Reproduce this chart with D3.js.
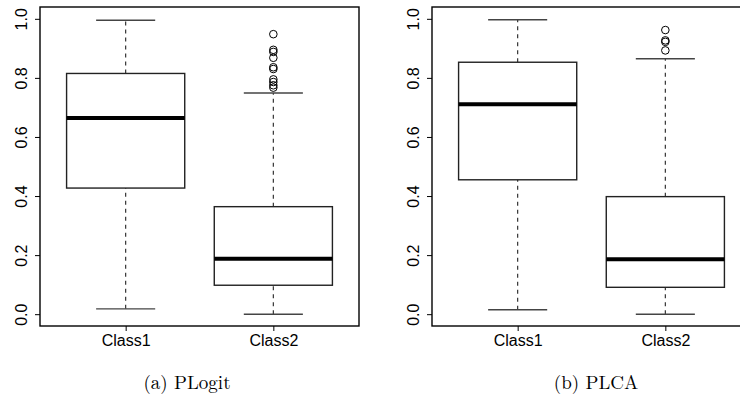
<!DOCTYPE html>
<html>
<head>
<meta charset="utf-8">
<script src="https://cdn.jsdelivr.net/npm/d3@7"></script>
<style>
  body { margin: 0; background: #fff; }
  svg { display: block; }
</style>
</head>
<body>
<svg id="chart" width="740" height="408"></svg>
<script>
// values: [lower whisker, Q1, median, Q3, upper whisker]
var categories = ["Class1", "Class2"];
var yTicks = [0, 0.2, 0.4, 0.6, 0.8, 1.0];
var captions = ["(a) PLogit", "(b) PLCA"];

var plogitStats = [[0.018, 0.427, 0.664, 0.815, 0.995],
                   [0.000, 0.098, 0.188, 0.364, 0.749]];
var plogitOutliers = [[], [0.948, 0.895, 0.888, 0.868, 0.836, 0.830, 0.795, 0.786, 0.775, 0.767]];

var plcaStats = [[0.015, 0.455, 0.711, 0.853, 0.997],
                 [0.000, 0.091, 0.186, 0.398, 0.865]];
var plcaOutliers = [[], [0.962, 0.927, 0.922, 0.893]];

var svg = d3.select("#chart");
var sans = "'Liberation Sans', Arial, Helvetica, sans-serif";

function drawPanel(left, top, stats, outliers, caption, capX) {
  var w = 319, h = 319;
  var x = d3.scaleLinear().domain([0.42, 2.58]).range([left, left + w]);
  var y = d3.scaleLinear().domain([-0.04, 1.04]).range([top + h, top]);
  var g = svg.append("g");

  stats.forEach(function (s, i) {
    var cx = x(i + 1);
    var bx0 = x(i + 1 - 0.4), bx1 = x(i + 1 + 0.4);
    var cx0 = x(i + 1 - 0.2), cx1 = x(i + 1 + 0.2);

    // dashed whiskers
    g.append("line").attr("x1", cx).attr("x2", cx).attr("y1", y(s[0])).attr("y2", y(s[1]))
      .attr("stroke", "#333").attr("stroke-width", 1.2).attr("stroke-dasharray", "4,4");
    g.append("line").attr("x1", cx).attr("x2", cx).attr("y1", y(s[3])).attr("y2", y(s[4]))
      .attr("stroke", "#333").attr("stroke-width", 1.2).attr("stroke-dasharray", "4,4");
    // staples
    [s[0], s[4]].forEach(function (v) {
      g.append("line").attr("x1", cx0).attr("x2", cx1).attr("y1", y(v)).attr("y2", y(v))
        .attr("stroke", "#444").attr("stroke-width", 1.4);
    });
    // box
    g.append("rect").attr("x", bx0).attr("y", y(s[3]))
      .attr("width", bx1 - bx0).attr("height", y(s[1]) - y(s[3]))
      .attr("fill", "#fff").attr("stroke", "#222").attr("stroke-width", 1.4);
    // median
    g.append("line").attr("x1", bx0).attr("x2", bx1).attr("y1", y(s[2])).attr("y2", y(s[2]))
      .attr("stroke", "#000").attr("stroke-width", 4);

    g.selectAll(null).data(outliers[i]).enter().append("circle")
      .attr("cx", cx).attr("cy", function (d) { return y(d); }).attr("r", 3.8)
      .attr("fill", "none").attr("stroke", "#000").attr("stroke-width", 1);
  });

  // frame
  g.append("rect").attr("x", left).attr("y", top).attr("width", w).attr("height", h)
    .attr("fill", "none").attr("stroke", "#000").attr("stroke-width", 1.4);

  var ya = g.append("g").attr("transform", "translate(" + left + ",0)")
    .call(d3.axisLeft(y).tickValues(yTicks).tickSize(5).tickFormat(d3.format(".1f")));
  ya.select(".domain").remove();
  ya.selectAll(".tick line").attr("stroke", "#000");
  ya.selectAll(".tick text")
    .attr("x", 0).attr("dy", null)
    .attr("text-anchor", "middle")
    .style("font-family", sans).style("font-size", "16px").attr("fill", "#000")
    .attr("transform", "translate(-13,0) rotate(-90)");

  var xa = g.append("g").attr("transform", "translate(0," + (top + h) + ")")
    .call(d3.axisBottom(x).tickValues([1, 2]).tickSize(5)
      .tickFormat(function (d) { return categories[d - 1]; }));
  xa.select(".domain").remove();
  xa.selectAll(".tick line").attr("stroke", "#000");
  xa.selectAll(".tick text").attr("y", 9)
    .style("font-family", sans).style("font-size", "16px").attr("fill", "#000");

  svg.append("text").attr("x", capX).attr("y", 389)
    .attr("text-anchor", "middle")
    .attr("font-family", "'Latin Modern Roman', 'Liberation Serif', serif")
    .attr("font-size", 19)
    .text(caption);
}

drawPanel(40, 7, plogitStats, plogitOutliers, captions[0], 187);
drawPanel(432, 7, plcaStats, plcaOutliers, captions[1], 596);
</script>
</body>
</html>
